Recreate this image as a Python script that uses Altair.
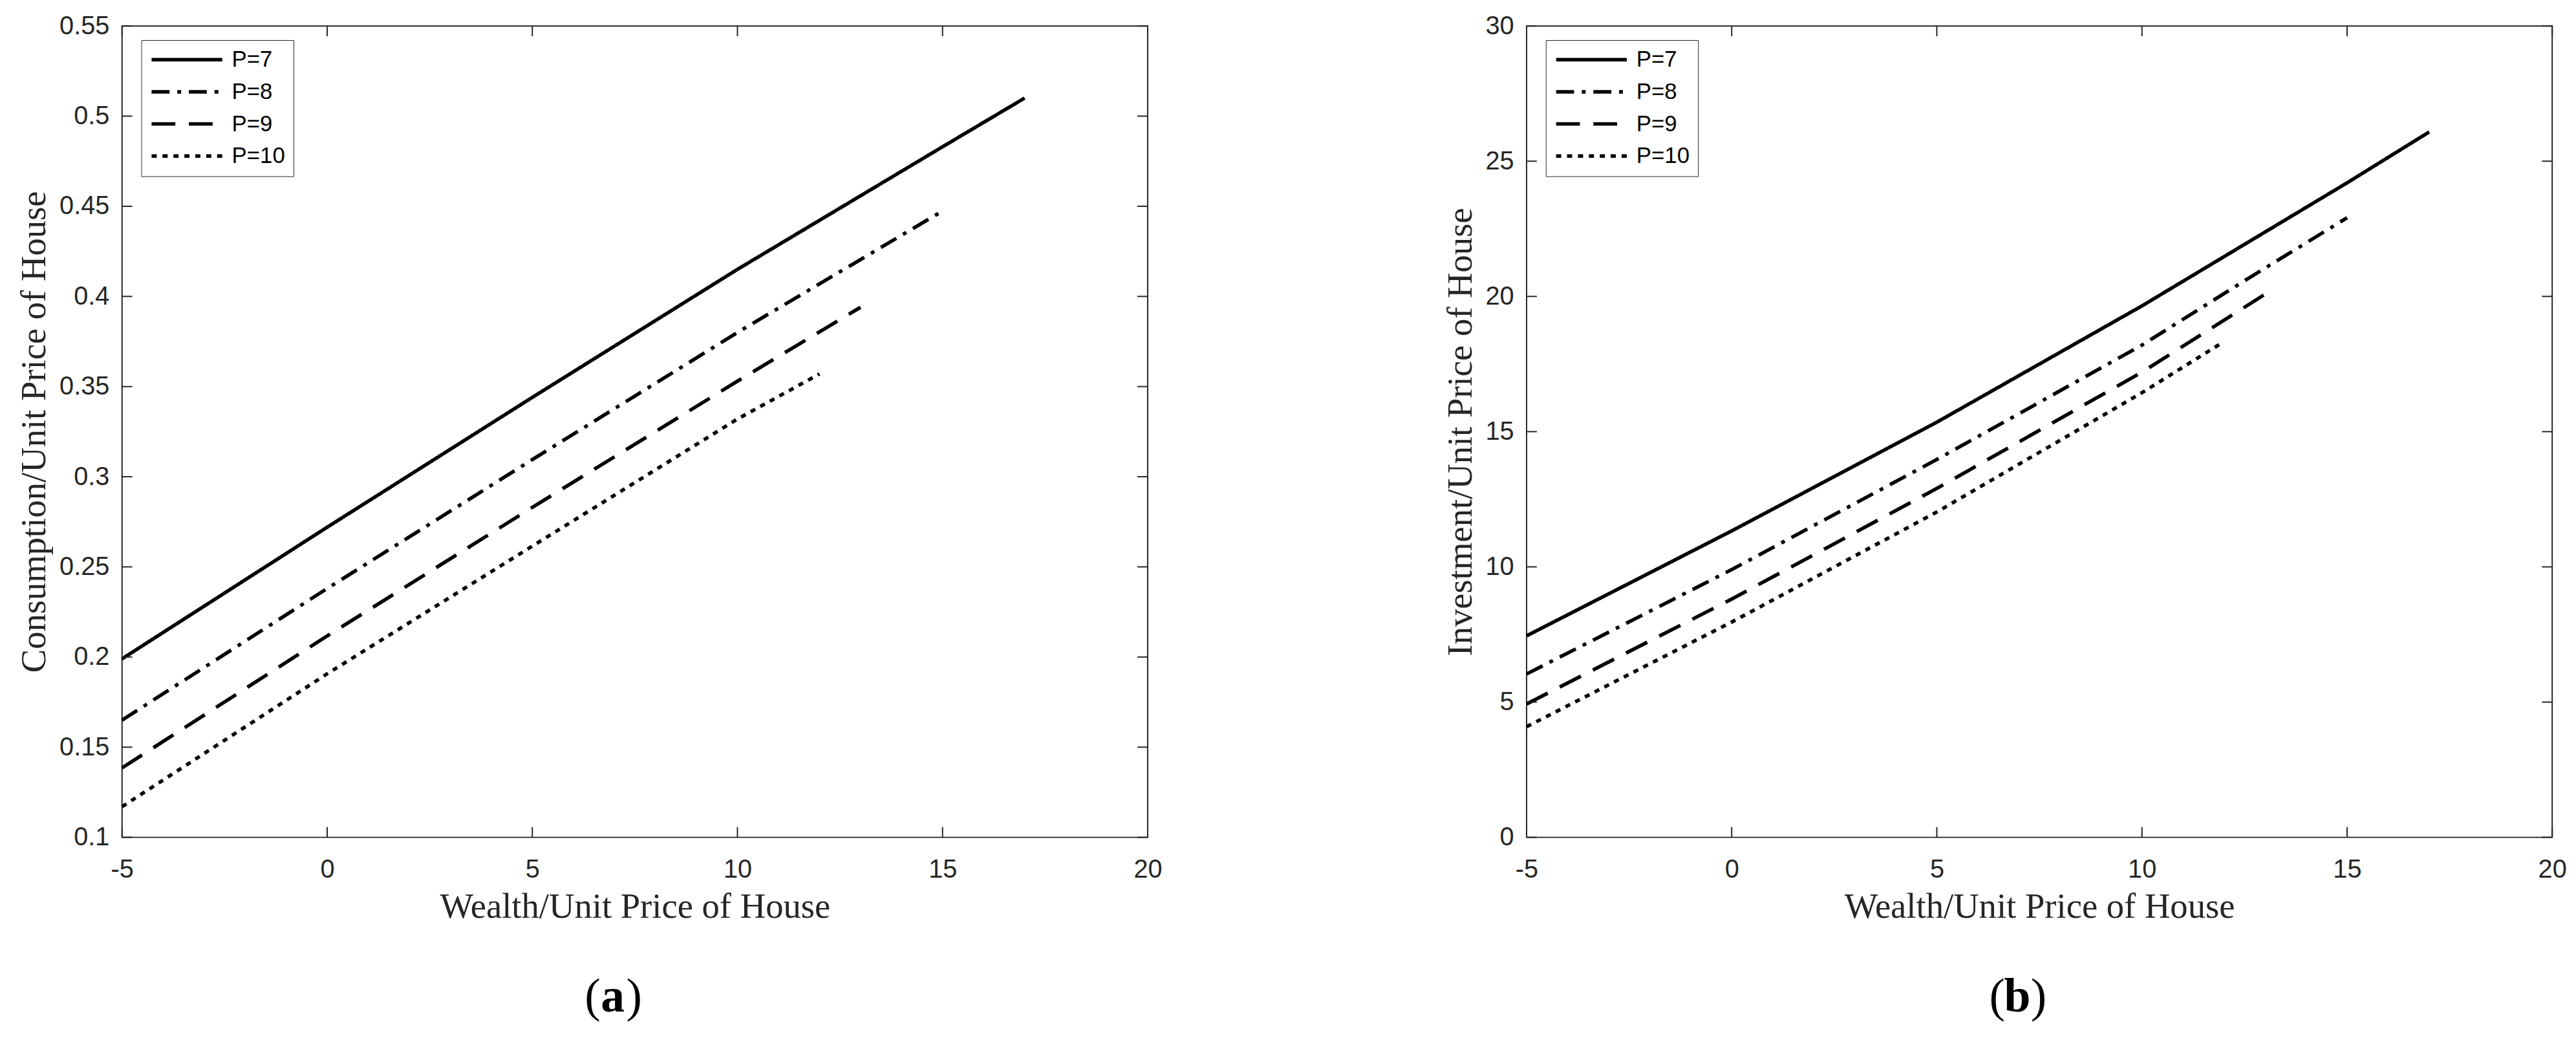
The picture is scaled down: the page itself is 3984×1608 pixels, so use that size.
import altair as alt
import pandas as pd

series = ["P=7", "P=8", "P=9", "P=10"]
x_ticks = [-5, 0, 5, 10, 15, 20]

# ---- Panel (a): Consumption / Unit Price of House ----
a_y_ticks = [0.1, 0.15, 0.2, 0.25, 0.3, 0.35, 0.4, 0.45, 0.5, 0.55]
a_x_p7 = [-5, 0, 5, 10, 15, 17]
a_y_p7 = [0.199, 0.272, 0.344, 0.415, 0.483, 0.510]
a_x_p8 = [-5, 0, 5, 10, 15]
a_y_p8 = [0.165, 0.238, 0.3095, 0.380, 0.4474]
a_x_p9 = [-5, 0, 5, 10, 13]
a_y_p9 = [0.1385, 0.2117, 0.283, 0.353, 0.394]
a_x_p10 = [-5, 0, 5, 10, 12]
a_y_p10 = [0.117, 0.1907, 0.2615, 0.332, 0.357]

# ---- Panel (b): Investment / Unit Price of House ----
b_y_ticks = [0, 5, 10, 15, 20, 25, 30]
b_x_p7 = [-5, 0, 5, 10, 15, 17]
b_y_p7 = [7.45, 11.33, 15.35, 19.65, 24.2, 26.08]
b_x_p8 = [-5, 0, 5, 10, 12.5, 15]
b_y_p8 = [6.04, 9.90, 13.97, 18.2, 20.58, 22.91]
b_x_p9 = [-5, 0, 5, 10, 13]
b_y_p9 = [4.93, 8.81, 12.9, 17.2, 20.08]
b_x_p10 = [-5, 0, 5, 10, 12]
b_y_p10 = [4.09, 7.96, 12.03, 16.44, 18.33]


def long_df(pairs):
    rows = []
    for name, xs, ys in pairs:
        for xv, yv in zip(xs, ys):
            rows.append({"x": xv, "y": yv, "P": name})
    return pd.DataFrame(rows)


df_a = long_df([("P=7", a_x_p7, a_y_p7), ("P=8", a_x_p8, a_y_p8),
                ("P=9", a_x_p9, a_y_p9), ("P=10", a_x_p10, a_y_p10)])
df_b = long_df([("P=7", b_x_p7, b_y_p7), ("P=8", b_x_p8, b_y_p8),
                ("P=9", b_x_p9, b_y_p9), ("P=10", b_x_p10, b_y_p10)])

W, H = 1597, 1263
TICK = 16
AX = "#262626"
dashes = [[1, 0], [28, 12, 6, 12], [37, 21], [8, 9]]


def panel(df, ydomain, yticks, ytitle, letter):
    xs = alt.Scale(domain=[-5, 20], nice=False, zero=False)
    ys = alt.Scale(domain=ydomain, nice=False, zero=False)
    xaxis = alt.Axis(values=x_ticks, title="Wealth/Unit Price of House",
                     labelExpr="datum.value < 0 ? '-' + (-datum.value) : '' + datum.value",
                     domain=False, ticks=False, grid=False,
                     labelPadding=30, titlePadding=12, labelFlush=False)
    yaxis = alt.Axis(values=yticks, title=ytitle,
                     labelExpr="'' + datum.value",
                     domain=False, ticks=False, grid=False,
                     labelPadding=20, titlePadding=10, labelFlush=False)
    lines = alt.Chart(df).mark_line(color="black", strokeWidth=5.5, strokeCap="butt").encode(
        x=alt.X("x:Q", scale=xs, axis=xaxis, title="Wealth/Unit Price of House"),
        y=alt.Y("y:Q", scale=ys, axis=yaxis, title=ytitle),
        strokeDash=alt.StrokeDash("P:N", scale=alt.Scale(domain=series, range=dashes),
                                  legend=alt.Legend(
                                      title=None, orient="none", legendX=30, legendY=22,
                                      direction="vertical", symbolType="stroke",
                                      symbolSize=110 * 110, symbolStrokeWidth=5.5,
                                      symbolStrokeColor="black", clipHeight=35,
                                      rowPadding=14, labelOffset=12, padding=13,
                                      labelFont="Liberation Sans", labelFontSize=35,
                                      labelColor="black", strokeColor=AX,
                                      fillColor="white")),
    )
    xt = pd.DataFrame({"x": x_ticks})
    yt = pd.DataFrame({"y": yticks})
    rule = dict(color=AX, strokeWidth=2)
    bottom = alt.Chart(xt).mark_rule(**rule).encode(
        x=alt.X("x:Q", scale=xs, axis=xaxis, title="Wealth/Unit Price of House"),
        y=alt.value(H), y2=alt.value(H - TICK))
    top = alt.Chart(xt).mark_rule(**rule).encode(
        x=alt.X("x:Q", scale=xs, axis=xaxis, title="Wealth/Unit Price of House"),
        y=alt.value(0), y2=alt.value(TICK))
    left = alt.Chart(yt).mark_rule(**rule).encode(
        y=alt.Y("y:Q", scale=ys, axis=yaxis, title=ytitle),
        x=alt.value(0), x2=alt.value(TICK))
    right = alt.Chart(yt).mark_rule(**rule).encode(
        y=alt.Y("y:Q", scale=ys, axis=yaxis, title=ytitle),
        x=alt.value(W - TICK), x2=alt.value(W))

    tfont = dict(font="Liberation Serif", fontSize=74, color="black", baseline="alphabetic")
    lp = alt.Chart(pd.DataFrame({"t": ["("]})).mark_text(align="right", **tfont).encode(
        text="t:N", x=alt.value(745), y=alt.value(1534))
    lt = alt.Chart(pd.DataFrame({"t": [letter]})).mark_text(align="center", fontWeight="bold", **tfont).encode(
        text="t:N", x=alt.value(764), y=alt.value(1534))
    rp = alt.Chart(pd.DataFrame({"t": [")"]})).mark_text(align="left", **tfont).encode(
        text="t:N", x=alt.value(785), y=alt.value(1534))

    return alt.layer(lines, bottom, top, left, right, lp, lt, rp).properties(width=W, height=H)


pa = panel(df_a, [0.1, 0.55], a_y_ticks, "Consumption/Unit Price of House", "a")
pb = panel(df_b, [0, 30], b_y_ticks, "Investment/Unit Price of House", "b")

chart = alt.hconcat(pa, pb, spacing=434).resolve_scale(
    strokeDash="independent", x="independent", y="independent"
).resolve_legend(strokeDash="independent").properties(
    padding={"left": 17, "top": 6, "right": 5, "bottom": 5},
    background="white",
).configure_view(stroke=AX, strokeWidth=2).configure_axis(
    labelFont="Liberation Sans", labelFontSize=40, labelColor=AX,
    titleFont="Liberation Serif", titleFontSize=55, titleFontWeight="normal", titleColor=AX,
)

chart.save("out.html", embed_options={"renderer": "svg", "actions": False})
